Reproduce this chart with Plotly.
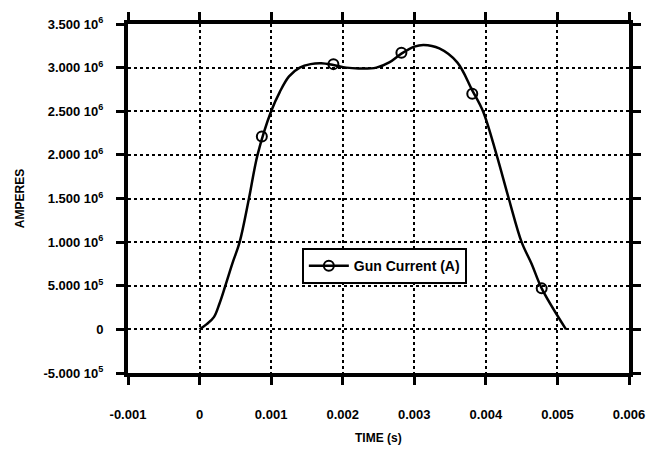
import plotly.graph_objects as go

# Smooth curve
curve_t = [0.0, 0.00010, 0.00020, 0.00028, 0.00036, 0.00046, 0.00056, 0.00069,
           0.00081, 0.00100, 0.00112, 0.00125, 0.00140, 0.00155, 0.00170, 0.00187,
           0.00205, 0.00222, 0.00247, 0.00265, 0.00282, 0.00300, 0.00313, 0.00335,
           0.00360, 0.00381, 0.00396, 0.00415, 0.00432, 0.00450, 0.00464, 0.00478, 0.00512]
curve_a = [0.0, 0.06e6, 0.14e6, 0.3e6, 0.5e6, 0.76e6, 1.0e6, 1.5e6,
           2.0e6, 2.5e6, 2.72e6, 2.9e6, 3.0e6, 3.04e6, 3.05e6, 3.03e6,
           3.0e6, 2.99e6, 3.0e6, 3.06e6, 3.16e6, 3.24e6, 3.26e6, 3.22e6,
           3.06e6, 2.74e6, 2.5e6, 2.0e6, 1.5e6, 1.0e6, 0.75e6, 0.47e6, 0.0]

# Marker points
mark_t = [0.00087, 0.00187, 0.00282, 0.00381, 0.00478]
mark_a = [2.21e6, 3.04e6, 3.17e6, 2.70e6, 0.47e6]

x_ticks = [-0.001, 0, 0.001, 0.002, 0.003, 0.004, 0.005, 0.006]
x_tick_text = ["-0.001", "0", "0.001", "0.002", "0.003", "0.004", "0.005", "0.006"]
y_ticks = [-0.5e6, 0, 0.5e6, 1.0e6, 1.5e6, 2.0e6, 2.5e6, 3.0e6, 3.5e6]
y_tick_text = ["-5.000 10<sup>5</sup>", "0", "5.000 10<sup>5</sup>", "1.000 10<sup>6</sup>",
               "1.500 10<sup>6</sup>", "2.000 10<sup>6</sup>", "2.500 10<sup>6</sup>",
               "3.000 10<sup>6</sup>", "3.500 10<sup>6</sup>"]
x_title = "TIME (s)"
y_title = "AMPERES"

fig = go.Figure()
fig.add_trace(go.Scatter(x=curve_t, y=curve_a, mode="lines",
                         line=dict(color="black", width=2.5, shape="spline", smoothing=1.0),
                         showlegend=False, hoverinfo="skip"))
fig.add_trace(go.Scatter(x=mark_t, y=mark_a, mode="markers",
                         marker=dict(symbol="circle-open", size=10, color="black", line=dict(width=2)),
                         showlegend=False))
fig.add_trace(go.Scatter(x=[None], y=[None], mode="lines+markers", name="Gun Current (A)",
                         line=dict(color="black", width=2.5),
                         marker=dict(symbol="circle-open", size=10, color="black", line=dict(width=2))))

font_family = "Liberation Sans, Arial, sans-serif"
fig.update_layout(
    width=658, height=449,
    margin=dict(l=128, r=29, t=24, b=76),
    paper_bgcolor="white", plot_bgcolor="white",
    font=dict(family=font_family, size=13, color="black", weight="bold"),
    legend=dict(x=0.347, y=0.358, xanchor="left", yanchor="top",
                bgcolor="white", bordercolor="black", borderwidth=2,
                font=dict(size=14, color="black", weight="bold"), itemwidth=40,
                tracegroupgap=0),
    annotations=[dict(text=x_title, xref="paper", yref="paper", x=0.5, y=-0.186,
                      xanchor="center", yanchor="middle", showarrow=False,
                      font=dict(size=12, weight="bold"))],
)
fig.update_xaxes(range=[-0.001, 0.006], tickvals=x_ticks, ticktext=x_tick_text,
                 showline=True, linecolor="black", linewidth=4, mirror="ticks",
                 ticks="outside", ticklen=8, tickwidth=3, tickcolor="black",
                 showgrid=True, gridcolor="black", gridwidth=2, griddash="dot",
                 zeroline=False, ticklabelstandoff=18, automargin=False,
                 tickfont=dict(size=13))
fig.update_yaxes(range=[-0.5e6, 3.5e6], tickvals=y_ticks, ticktext=y_tick_text,
                 showline=True, linecolor="black", linewidth=4, mirror="ticks",
                 ticks="outside", ticklen=8, tickwidth=3, tickcolor="black",
                 showgrid=True, gridcolor="black", gridwidth=2, griddash="dot",
                 zeroline=False, automargin=False, ticklabelstandoff=10,
                 tickfont=dict(size=13),
                 title=dict(text=y_title, font=dict(size=12), standoff=17))

fig.write_html("out.html", config={"displayModeBar": False},
               post_script="document.body.style.margin='0';document.body.style.padding='0';")
